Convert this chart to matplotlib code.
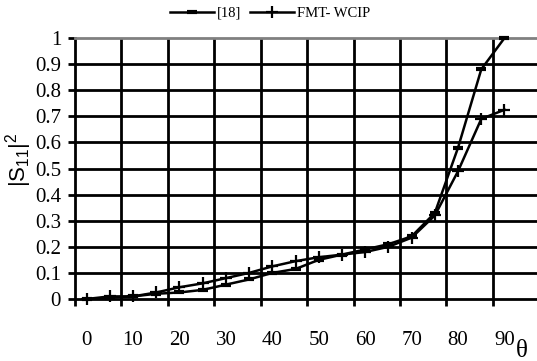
# Reflection |S11|^2 versus incidence angle: reference [18] against FMT-WCIP

import matplotlib
matplotlib.use("Agg")
import matplotlib.pyplot as plt
import numpy as np

# -----------------------------------------------------------------------------
# Data

theta = [0, 5, 10, 15, 20, 25, 30, 35, 40, 45, 50, 55, 60, 65, 70, 75, 80, 85, 90]
s11_ref18 = [0.0, 0.005, 0.01, 0.02, 0.025, 0.035, 0.055, 0.075, 0.1, 0.115,
             0.15, 0.17, 0.19, 0.21, 0.24, 0.33, 0.58, 0.88, 1.0]
s11_fmt = [0.0, 0.01, 0.01, 0.025, 0.045, 0.06, 0.08, 0.1, 0.125, 0.145,
           0.16, 0.17, 0.18, 0.2, 0.235, 0.32, 0.49, 0.69, 0.725]

x_labels = [0, 10, 20, 30, 40, 50, 60, 70, 80, 90]
x_grid = [-2.5, 7.5, 17.5, 27.5, 37.5, 47.5, 57.5, 67.5, 77.5, 87.5]
y_ticks = [0, 0.1, 0.2, 0.3, 0.4, 0.5, 0.6, 0.7, 0.8, 0.9, 1.0]

# -----------------------------------------------------------------------------
# Plot

plt.rcParams["font.family"] = ["Liberation Serif", "DejaVu Serif"]
plt.rcParams["mathtext.fontset"] = "custom"
plt.rcParams["mathtext.rm"] = "Liberation Sans"
plt.rcParams["mathtext.it"] = "Liberation Sans"

fig = plt.figure(figsize=(5.37, 3.61), dpi=100)
ax = fig.add_axes([75/537, 1-299/361, 1-75/537, (299-38)/361])

# grid drawn by hand so the top line can stay grey
for y in y_ticks[1:-1]:
    ax.axhline(y, color="black", lw=2, zorder=1)
for x in x_grid[1:]:
    ax.axvline(x, color="black", lw=2, zorder=1)

ax.plot(theta, s11_ref18, color="black", lw=1.8, marker="_", ms=7, mew=3,
        label="[18]", zorder=3, clip_on=False)
ax.plot(theta, s11_fmt, color="black", lw=1.8, marker="+", ms=9, mew=1.6,
        label="FMT- WCIP", zorder=3, clip_on=False)

ax.set_xlim(-2.5, 97)
ax.set_ylim(0, 1)

ax.spines["right"].set_visible(False)
ax.spines["top"].set_color("#808080")
ax.spines["top"].set_linewidth(2)
ax.spines["left"].set_linewidth(2)
ax.spines["bottom"].set_linewidth(2)

ax.set_yticks(y_ticks)
ax.set_yticklabels([f"{v:g}" for v in y_ticks])
ax.tick_params(axis="y", direction="out", length=5, width=2, pad=5, labelsize=15)

ax.set_xticks(x_grid)
ax.set_xticklabels([])
ax.set_xticks(x_labels, minor=True)
ax.set_xticklabels([str(v) for v in x_labels], minor=True)
ax.tick_params(axis="x", which="major", direction="out", length=5, width=2)
ax.tick_params(axis="x", which="minor", length=0, pad=23, labelsize=15)

fig.text(19/537, 1-160/361, r"$\mathrm{|S_{11}|^2}$", rotation=90,
         ha="center", va="center", fontsize=16)
fig.text(522/537, 1-351/361, "θ", ha="center", va="center", fontsize=18)

fig.legend(loc="center", bbox_to_anchor=(270/537, 1-13/361), ncol=2,
           frameon=False, fontsize=10.5, handlelength=3.0, columnspacing=0.6,
           handletextpad=0.2, borderpad=0)

fig.savefig("out.png", dpi=100)
